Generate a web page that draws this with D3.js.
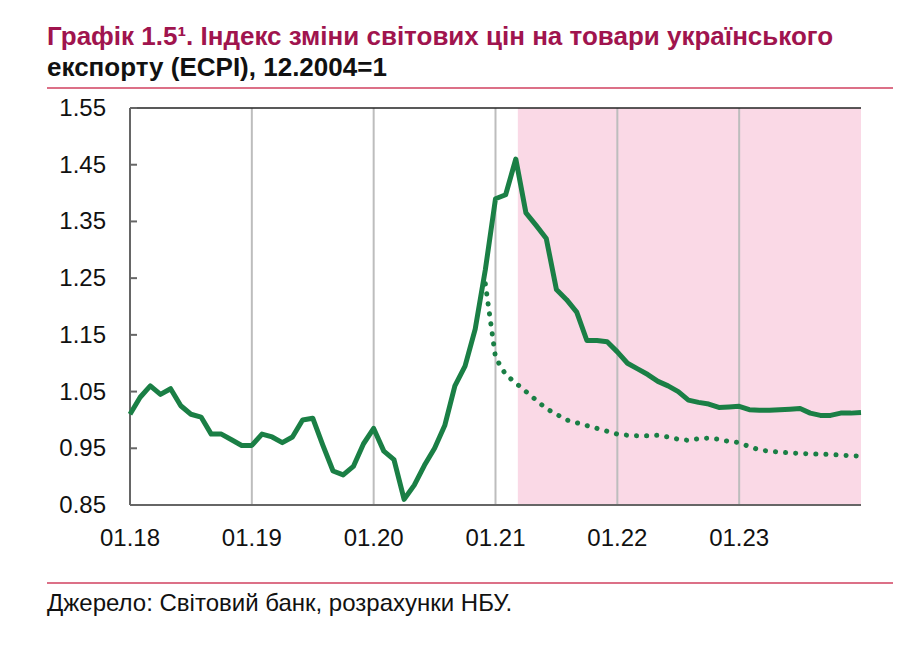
<!DOCTYPE html>
<html><head><meta charset="utf-8">
<script src="https://cdn.jsdelivr.net/npm/d3@7"></script>
<style>body{margin:0;background:#fff;font-family:"Liberation Sans",Arial,sans-serif}</style>
</head><body><svg id="c" width="918" height="656"></svg>
<script>
const yTicks=[0.85,0.95,1.05,1.15,1.25,1.35,1.45,1.55];
const xTickLabels=["01.18","01.19","01.20","01.21","01.22","01.23"];
const actual=[1.01,1.04,1.06,1.045,1.055,1.025,1.01,1.005,0.975,0.975,0.965,0.955,
0.955,0.975,0.97,0.96,0.97,1.0,1.003,0.955,0.91,0.903,0.918,0.958,
0.985,0.945,0.93,0.86,0.885,0.92,0.95,0.99,1.06,1.095,1.16,1.265,
1.39,1.397,1.46,1.365,1.343,1.32,1.23,1.212,1.19,1.14,1.14,1.138,
1.12,1.1,1.09,1.08,1.068,1.06,1.05,1.035,1.031,1.028,1.022,1.023,
1.024,1.018,1.017,1.017,1.018,1.019,1.02,1.012,1.008,1.008,1.012,1.012,1.013];
const forecastStart=35;
const forecast=[1.24,1.11,1.08,1.065,1.05,1.035,1.02,1.01,1.0,0.995,0.99,0.985,0.98,
0.975,0.973,0.972,0.972,0.973,0.97,0.966,0.964,0.967,0.968,0.966,0.962,
0.96,0.953,0.947,0.945,0.943,0.942,0.941,0.94,0.94,0.939,0.938,0.937,0.936];
const shadeStart=38.2;

const svg=d3.select("#c");
svg.append("text").attr("x",47).attr("y",45).attr("fill","#a0144e").attr("font-weight","bold").attr("font-size",26)
 .text("Графік 1.5¹. Індекс зміни світових цін на товари українського");
svg.append("text").attr("x",47).attr("y",76).attr("fill","#111").attr("font-weight","bold").attr("font-size",26)
 .text("експорту (ECPI), 12.2004=1");
[88,583].forEach(y=>svg.append("line").attr("x1",47).attr("x2",893).attr("y1",y).attr("y2",y).attr("stroke","#d0405f").attr("stroke-width",1.5));
svg.append("text").attr("x",47).attr("y",611).attr("font-size",24).attr("fill","#111").text("Джерело: Світовий банк, розрахунки НБУ.");

const x=d3.scaleLinear().domain([0,72]).range([130,861]);
const y=d3.scaleLinear().domain([0.85,1.55]).range([505,108]);
svg.append("rect").attr("x",x(shadeStart)).attr("y",y(1.55)).attr("width",x(72)-x(shadeStart)).attr("height",y(0.85)-y(1.55)).attr("fill","#fad9e6");
[12,24,36,48,60].forEach(m=>svg.append("line").attr("x1",x(m)).attr("x2",x(m)).attr("y1",y(1.55)).attr("y2",y(0.85)).attr("stroke","#bdbdbd").attr("stroke-width",2));
svg.append("line").attr("x1",x(0)).attr("x2",x(72)).attr("y1",y(1.55)).attr("y2",y(1.55)).attr("stroke","#222").attr("stroke-width",1.5);
svg.append("line").attr("x1",x(0)).attr("x2",x(0)).attr("y1",y(1.55)).attr("y2",y(0.85)).attr("stroke","#666").attr("stroke-width",2);
svg.append("line").attr("x1",x(0)).attr("x2",x(72)).attr("y1",y(0.85)).attr("y2",y(0.85)).attr("stroke","#666").attr("stroke-width",2);
yTicks.forEach(v=>{
 svg.append("line").attr("x1",x(0)).attr("x2",x(0)+7).attr("y1",y(v)).attr("y2",y(v)).attr("stroke","#666").attr("stroke-width",2);
 svg.append("text").attr("x",106).attr("y",y(v)+8).attr("text-anchor","end").attr("font-size",24).attr("fill","#111").text(v.toFixed(2));
});
xTickLabels.forEach((t,i)=>svg.append("text").attr("x",x(i*12)).attr("y",546).attr("text-anchor","middle").attr("font-size",24).attr("fill","#111").text(t));
const line=d3.line().x(d=>x(d[0])).y(d=>y(d[1]));
svg.append("path").attr("d",line(forecast.map((v,i)=>[i+forecastStart,v]))).attr("fill","none").attr("stroke","#1a7f45").attr("stroke-width",5).attr("stroke-linecap","round").attr("stroke-dasharray","0.1 10");
svg.append("path").attr("d",line(actual.map((v,i)=>[i,v]))).attr("fill","none").attr("stroke","#1a7f45").attr("stroke-width",5).attr("stroke-linejoin","round");
</script></body></html>
